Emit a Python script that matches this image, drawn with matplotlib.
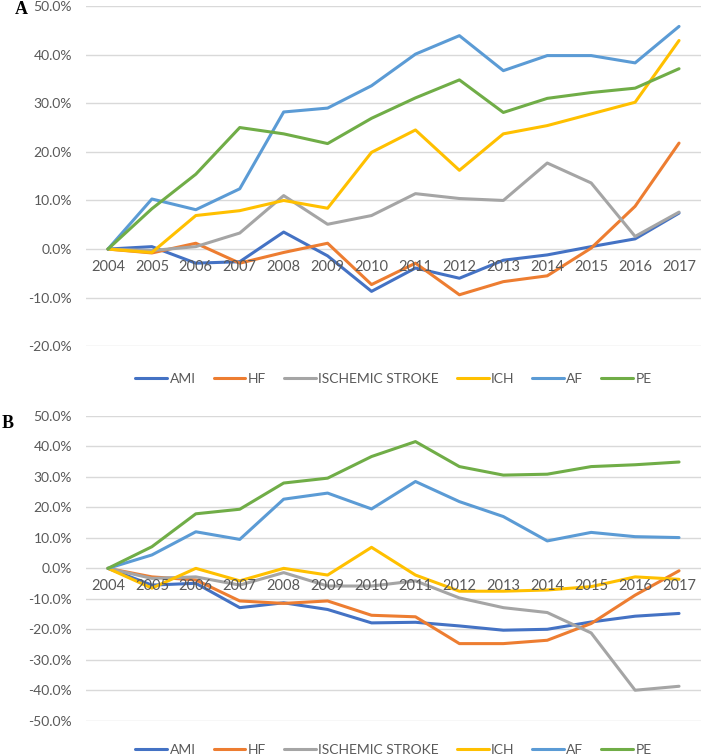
# coding: utf-8

import matplotlib
matplotlib.use("Agg")
import matplotlib.pyplot as plt
from matplotlib.ticker import FuncFormatter

# categories
years = [str(y) for y in range(2004, 2018)]
series_names = ["AMI", "HF", "ISCHEMIC STROKE", "ICH", "AF", "PE"]
colors = ["#4472C4", "#ED7D31", "#A5A5A5", "#FFC000", "#5B9BD5", "#70AD47"]

# panel A, % change vs 2004
a_ami = [0, 0.5, -2.9, -2.6, 3.5, -1.4, -8.7, -3.9, -6.0, -2.3, -1.2, 0.5, 2.1, 7.4]
a_hf = [0, -0.8, 1.2, -2.9, -0.7, 1.2, -7.3, -2.9, -9.4, -6.7, -5.5, 0.2, 8.8, 21.8]
a_isch = [0, -0.3, 0.5, 3.3, 11.0, 5.1, 6.9, 11.4, 10.4, 10.0, 17.7, 13.6, 2.6, 7.6]
a_ich = [0, -0.7, 6.9, 7.9, 10.0, 8.4, 19.9, 24.5, 16.2, 23.7, 25.4, 27.8, 30.2, 42.9]
a_af = [0, 10.3, 8.1, 12.4, 28.2, 29.0, 33.6, 40.1, 43.9, 36.7, 39.8, 39.8, 38.3, 45.8]
a_pe = [0, 8.3, 15.4, 25.0, 23.7, 21.7, 26.9, 31.1, 34.8, 28.1, 31.0, 32.2, 33.1, 37.1]

# panel B
b_ami = [0, -5.5, -4.9, -12.9, -11.3, -13.5, -17.9, -17.7, -18.9, -20.3, -20.0, -17.6, -15.7, -14.8]
b_hf = [0, -2.8, -3.8, -10.7, -11.5, -10.7, -15.4, -15.9, -24.7, -24.7, -23.6, -18.1, -8.8, -0.8]
b_isch = [0, -3.3, -2.8, -5.5, -1.4, -5.8, -5.8, -4.1, -9.7, -12.9, -14.5, -21.2, -40.0, -38.7]
b_ich = [0, -6.5, 0.0, -4.1, 0.0, -2.2, 6.9, -2.2, -7.5, -7.5, -7.1, -6.0, -2.8, -3.6]
b_af = [0, 4.4, 12.0, 9.5, 22.7, 24.7, 19.5, 28.5, 21.9, 17.0, 9.0, 11.8, 10.4, 10.1]
b_pe = [0, 7.1, 17.9, 19.4, 28.0, 29.6, 36.7, 41.6, 33.4, 30.6, 30.9, 33.4, 34.0, 34.9]

panel_a = [a_ami, a_hf, a_isch, a_ich, a_af, a_pe]
panel_b = [b_ami, b_hf, b_isch, b_ich, b_af, b_pe]

plt.rcParams['font.family'] = ['Lato', 'DejaVu Sans']
TXT = "#595959"
GRID = "#D9D9D9"


def draw_panel(ax, data, ymin, ymax):
    x = list(range(len(years)))
    for vals, name, c in zip(data, series_names, colors):
        ax.plot(x, vals, color=c, lw=2.2, label=name, solid_capstyle='round')

    ax.set_xlim(-0.5, len(years) - 0.5)
    ax.set_ylim(ymin, ymax)
    ax.set_yticks(range(ymin, ymax + 1, 10))
    ax.yaxis.set_major_formatter(FuncFormatter(lambda v, p: "%.1f%%" % v))
    ax.grid(axis='y', color=GRID, lw=1)
    ax.set_axisbelow(True)
    ax.set_xticks([])
    ax.tick_params(axis='y', length=0, pad=10, labelsize=10, labelcolor=TXT)
    for s in ax.spines.values():
        s.set_visible(False)

    # category labels sit under the zero line
    for i, yr in enumerate(years):
        ax.annotate(yr, (i, 0), xytext=(0, -13), textcoords='offset points',
                    ha='center', va='center', fontsize=10.5, color=TXT)


def add_legend(fig, ax, y):
    h, l = ax.get_legend_handles_labels()
    fig.legend(h, l, loc='center', bbox_to_anchor=(393.5 / 708, y),
               ncol=6, frameon=False, fontsize=10, handlelength=2.3,
               handletextpad=0.15, columnspacing=1.3, labelcolor=TXT)


def main():
    fig = plt.figure(figsize=(7.08, 7.55), dpi=100)

    ax_a = fig.add_axes([86 / 708, 1 - 346.3 / 755, 615 / 708, 340.3 / 755])
    draw_panel(ax_a, panel_a, -20, 50)
    add_legend(fig, ax_a, 1 - 379 / 755)

    ax_b = fig.add_axes([86 / 708, 1 - 720.7 / 755, 615 / 708, 304.7 / 755])
    draw_panel(ax_b, panel_b, -50, 50)
    add_legend(fig, ax_b, 1 - 750 / 755)

    fig.text(15 / 708, 1 - 9 / 755, "A", family='Liberation Serif',
             fontweight='bold', fontsize=13, ha='left', va='center')
    fig.text(2 / 708, 1 - 423 / 755, "B", family='Liberation Serif',
             fontweight='bold', fontsize=13, ha='left', va='center')

    fig.savefig("out.png", dpi=100)


if __name__ == "__main__":
    main()
